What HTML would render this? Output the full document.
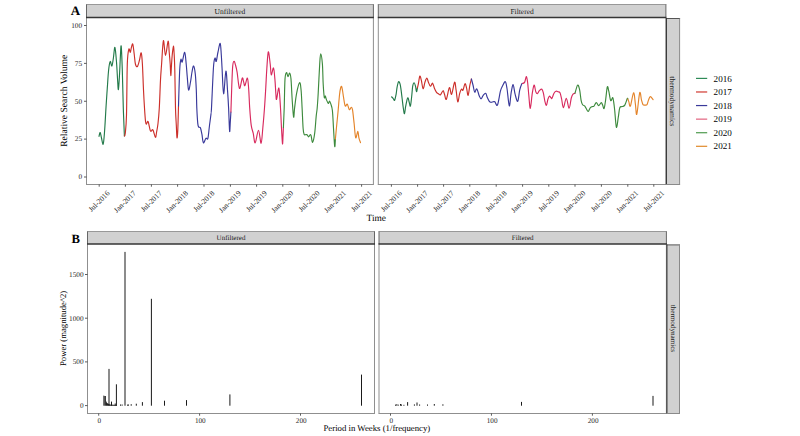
<!DOCTYPE html>
<html><head><meta charset="utf-8"><style>
html,body{margin:0;padding:0;background:#fff;width:800px;height:436px;overflow:hidden}
svg{display:block}
text{font-family:"Liberation Serif", serif;text-rendering:geometricPrecision}
</style></head><body>
<svg width="800" height="436" viewBox="0 0 800 436">
<rect width="800" height="436" fill="#fff"/>
<rect x="86.5" y="4.5" width="286.9" height="13.0" fill="#d1d1d1"/>
<text x="229.9" y="13.9" font-size="7.5" text-anchor="middle" fill="#1a1a1a">Unfiltered</text>
<line x1="86.0" y1="4.5" x2="373.9" y2="4.5" stroke="#8e8e8e" stroke-width="0.9"/>
<line x1="86.5" y1="4.5" x2="86.5" y2="17.5" stroke="#666666" stroke-width="1.0"/>
<line x1="373.4" y1="4.5" x2="373.4" y2="17.5" stroke="#666666" stroke-width="1.0"/>
<line x1="86.5" y1="17.5" x2="86.5" y2="184.5" stroke="#8f8f8f" stroke-width="1.0"/>
<line x1="373.4" y1="17.5" x2="373.4" y2="184.5" stroke="#8f8f8f" stroke-width="1.0"/>
<line x1="86.0" y1="184.5" x2="373.9" y2="184.5" stroke="#8f8f8f" stroke-width="1.0"/>
<line x1="86.0" y1="17.5" x2="373.9" y2="17.5" stroke="#353535" stroke-width="1.3"/>
<rect x="378.3" y="4.5" width="287.59999999999997" height="13.0" fill="#d1d1d1"/>
<text x="522.1" y="13.9" font-size="7.5" text-anchor="middle" fill="#1a1a1a">Filtered</text>
<line x1="377.8" y1="4.5" x2="666.4" y2="4.5" stroke="#8e8e8e" stroke-width="0.9"/>
<line x1="378.3" y1="4.5" x2="378.3" y2="17.5" stroke="#666666" stroke-width="1.0"/>
<line x1="665.9" y1="4.5" x2="665.9" y2="17.5" stroke="#666666" stroke-width="1.0"/>
<line x1="378.3" y1="17.5" x2="378.3" y2="184.5" stroke="#8f8f8f" stroke-width="1.0"/>
<line x1="665.9" y1="17.5" x2="665.9" y2="184.5" stroke="#8f8f8f" stroke-width="1.0"/>
<line x1="377.8" y1="184.5" x2="666.4" y2="184.5" stroke="#8f8f8f" stroke-width="1.0"/>
<line x1="377.8" y1="17.5" x2="666.4" y2="17.5" stroke="#353535" stroke-width="1.3"/>
<rect x="666.4" y="18.5" width="13.200000000000045" height="166.0" fill="#d1d1d1"/>
<text x="0" y="0" font-size="7.5" text-anchor="middle" fill="#1a1a1a" transform="translate(670.1,101.3) rotate(90)">thermodynamics</text>
<line x1="666.4" y1="18.5" x2="680.1" y2="18.5" stroke="#555555" stroke-width="1.0"/>
<line x1="666.4" y1="18.0" x2="666.4" y2="184.5" stroke="#333333" stroke-width="1.1"/>
<line x1="679.6" y1="18.5" x2="679.6" y2="184.5" stroke="#8a8a8a" stroke-width="1.0"/>
<line x1="666.4" y1="184.5" x2="680.1" y2="184.5" stroke="#8a8a8a" stroke-width="1.0"/>
<rect x="87.5" y="231.5" width="287.0" height="12.5" fill="#d1d1d1"/>
<text x="231.0" y="240.1" font-size="7.0" text-anchor="middle" fill="#1a1a1a">Unfiltered</text>
<line x1="87.0" y1="231.5" x2="375.0" y2="231.5" stroke="#8e8e8e" stroke-width="0.9"/>
<line x1="87.5" y1="231.5" x2="87.5" y2="244.0" stroke="#666666" stroke-width="1.0"/>
<line x1="374.5" y1="231.5" x2="374.5" y2="244.0" stroke="#666666" stroke-width="1.0"/>
<line x1="87.5" y1="244.0" x2="87.5" y2="413.5" stroke="#8f8f8f" stroke-width="1.0"/>
<line x1="374.5" y1="244.0" x2="374.5" y2="413.5" stroke="#8f8f8f" stroke-width="1.0"/>
<line x1="87.0" y1="413.5" x2="375.0" y2="413.5" stroke="#8f8f8f" stroke-width="1.0"/>
<line x1="87.0" y1="244.0" x2="375.0" y2="244.0" stroke="#353535" stroke-width="1.3"/>
<rect x="379.0" y="231.5" width="287.4" height="12.5" fill="#d1d1d1"/>
<text x="522.7" y="240.1" font-size="7.0" text-anchor="middle" fill="#1a1a1a">Filtered</text>
<line x1="378.5" y1="231.5" x2="666.9" y2="231.5" stroke="#8e8e8e" stroke-width="0.9"/>
<line x1="379.0" y1="231.5" x2="379.0" y2="244.0" stroke="#666666" stroke-width="1.0"/>
<line x1="666.4" y1="231.5" x2="666.4" y2="244.0" stroke="#666666" stroke-width="1.0"/>
<line x1="379.0" y1="244.0" x2="379.0" y2="413.5" stroke="#8f8f8f" stroke-width="1.0"/>
<line x1="666.4" y1="244.0" x2="666.4" y2="413.5" stroke="#8f8f8f" stroke-width="1.0"/>
<line x1="378.5" y1="413.5" x2="666.9" y2="413.5" stroke="#8f8f8f" stroke-width="1.0"/>
<line x1="378.5" y1="244.0" x2="666.9" y2="244.0" stroke="#353535" stroke-width="1.3"/>
<rect x="666.9" y="244.9" width="12.600000000000023" height="168.6" fill="#d1d1d1"/>
<text x="0" y="0" font-size="7.1" text-anchor="middle" fill="#1a1a1a" transform="translate(671.3,328.4) rotate(90)">thermodynamics</text>
<line x1="666.9" y1="244.9" x2="680.0" y2="244.9" stroke="#555555" stroke-width="1.0"/>
<line x1="666.9" y1="244.4" x2="666.9" y2="413.5" stroke="#333333" stroke-width="1.1"/>
<line x1="679.5" y1="244.9" x2="679.5" y2="413.5" stroke="#8a8a8a" stroke-width="1.0"/>
<line x1="666.9" y1="413.5" x2="680.0" y2="413.5" stroke="#8a8a8a" stroke-width="1.0"/>
<text x="70.7" y="14.7" font-size="13" font-weight="bold" fill="#000">A</text>
<text x="71.6" y="242.8" font-size="12.7" font-weight="bold" fill="#000">B</text>
<line x1="84" y1="177.00" x2="86.5" y2="177.00" stroke="#333333" stroke-width="0.8"/>
<text x="82.1" y="179.30" font-size="7.3" text-anchor="end" fill="#262626">0</text>
<line x1="84" y1="139.12" x2="86.5" y2="139.12" stroke="#333333" stroke-width="0.8"/>
<text x="82.1" y="141.43" font-size="7.3" text-anchor="end" fill="#262626">25</text>
<line x1="84" y1="101.25" x2="86.5" y2="101.25" stroke="#333333" stroke-width="0.8"/>
<text x="82.1" y="103.55" font-size="7.3" text-anchor="end" fill="#262626">50</text>
<line x1="84" y1="63.38" x2="86.5" y2="63.38" stroke="#333333" stroke-width="0.8"/>
<text x="82.1" y="65.68" font-size="7.3" text-anchor="end" fill="#262626">75</text>
<line x1="84" y1="25.50" x2="86.5" y2="25.50" stroke="#333333" stroke-width="0.8"/>
<text x="82.1" y="27.80" font-size="7.3" text-anchor="end" fill="#262626">100</text>
<text x="0" y="0" font-size="9.55" text-anchor="middle" fill="#000" transform="translate(66.5,100.8) rotate(-90)">Relative Search Volume</text>
<line x1="85" y1="405.60" x2="87.5" y2="405.60" stroke="#333333" stroke-width="0.8"/>
<text x="83.6" y="407.90" font-size="7.3" text-anchor="end" fill="#262626">0</text>
<line x1="85" y1="361.90" x2="87.5" y2="361.90" stroke="#333333" stroke-width="0.8"/>
<text x="83.6" y="364.20" font-size="7.3" text-anchor="end" fill="#262626">500</text>
<line x1="85" y1="318.20" x2="87.5" y2="318.20" stroke="#333333" stroke-width="0.8"/>
<text x="83.6" y="320.50" font-size="7.3" text-anchor="end" fill="#262626">1000</text>
<line x1="85" y1="274.50" x2="87.5" y2="274.50" stroke="#333333" stroke-width="0.8"/>
<text x="83.6" y="276.80" font-size="7.3" text-anchor="end" fill="#262626">1500</text>
<text x="0" y="0" font-size="8.7" text-anchor="middle" fill="#000" transform="translate(65.9,328.4) rotate(-90)">Power (magnitude^2)</text>
<line x1="99.20" y1="184.5" x2="99.20" y2="186.70" stroke="#333333" stroke-width="0.8"/>
<text x="0" y="0" font-size="7.5" text-anchor="end" fill="#262626" transform="translate(110.10,193.70) rotate(-45)">Jul-2016</text>
<line x1="125.40" y1="184.5" x2="125.40" y2="186.70" stroke="#333333" stroke-width="0.8"/>
<text x="0" y="0" font-size="7.5" text-anchor="end" fill="#262626" transform="translate(136.30,193.70) rotate(-45)">Jan-2017</text>
<line x1="151.40" y1="184.5" x2="151.40" y2="186.70" stroke="#333333" stroke-width="0.8"/>
<text x="0" y="0" font-size="7.5" text-anchor="end" fill="#262626" transform="translate(162.30,193.70) rotate(-45)">Jul-2017</text>
<line x1="177.60" y1="184.5" x2="177.60" y2="186.70" stroke="#333333" stroke-width="0.8"/>
<text x="0" y="0" font-size="7.5" text-anchor="end" fill="#262626" transform="translate(188.50,193.70) rotate(-45)">Jan-2018</text>
<line x1="204.00" y1="184.5" x2="204.00" y2="186.70" stroke="#333333" stroke-width="0.8"/>
<text x="0" y="0" font-size="7.5" text-anchor="end" fill="#262626" transform="translate(214.90,193.70) rotate(-45)">Jul-2018</text>
<line x1="230.40" y1="184.5" x2="230.40" y2="186.70" stroke="#333333" stroke-width="0.8"/>
<text x="0" y="0" font-size="7.5" text-anchor="end" fill="#262626" transform="translate(241.30,193.70) rotate(-45)">Jan-2019</text>
<line x1="256.60" y1="184.5" x2="256.60" y2="186.70" stroke="#333333" stroke-width="0.8"/>
<text x="0" y="0" font-size="7.5" text-anchor="end" fill="#262626" transform="translate(267.50,193.70) rotate(-45)">Jul-2019</text>
<line x1="282.80" y1="184.5" x2="282.80" y2="186.70" stroke="#333333" stroke-width="0.8"/>
<text x="0" y="0" font-size="7.5" text-anchor="end" fill="#262626" transform="translate(293.70,193.70) rotate(-45)">Jan-2020</text>
<line x1="309.20" y1="184.5" x2="309.20" y2="186.70" stroke="#333333" stroke-width="0.8"/>
<text x="0" y="0" font-size="7.5" text-anchor="end" fill="#262626" transform="translate(320.10,193.70) rotate(-45)">Jul-2020</text>
<line x1="335.60" y1="184.5" x2="335.60" y2="186.70" stroke="#333333" stroke-width="0.8"/>
<text x="0" y="0" font-size="7.5" text-anchor="end" fill="#262626" transform="translate(346.50,193.70) rotate(-45)">Jan-2021</text>
<line x1="361.60" y1="184.5" x2="361.60" y2="186.70" stroke="#333333" stroke-width="0.8"/>
<text x="0" y="0" font-size="7.5" text-anchor="end" fill="#262626" transform="translate(372.50,193.70) rotate(-45)">Jul-2021</text>
<line x1="391.40" y1="184.5" x2="391.40" y2="186.70" stroke="#333333" stroke-width="0.8"/>
<text x="0" y="0" font-size="7.5" text-anchor="end" fill="#262626" transform="translate(402.30,193.70) rotate(-45)">Jul-2016</text>
<line x1="417.60" y1="184.5" x2="417.60" y2="186.70" stroke="#333333" stroke-width="0.8"/>
<text x="0" y="0" font-size="7.5" text-anchor="end" fill="#262626" transform="translate(428.50,193.70) rotate(-45)">Jan-2017</text>
<line x1="443.60" y1="184.5" x2="443.60" y2="186.70" stroke="#333333" stroke-width="0.8"/>
<text x="0" y="0" font-size="7.5" text-anchor="end" fill="#262626" transform="translate(454.50,193.70) rotate(-45)">Jul-2017</text>
<line x1="469.80" y1="184.5" x2="469.80" y2="186.70" stroke="#333333" stroke-width="0.8"/>
<text x="0" y="0" font-size="7.5" text-anchor="end" fill="#262626" transform="translate(480.70,193.70) rotate(-45)">Jan-2018</text>
<line x1="496.20" y1="184.5" x2="496.20" y2="186.70" stroke="#333333" stroke-width="0.8"/>
<text x="0" y="0" font-size="7.5" text-anchor="end" fill="#262626" transform="translate(507.10,193.70) rotate(-45)">Jul-2018</text>
<line x1="522.60" y1="184.5" x2="522.60" y2="186.70" stroke="#333333" stroke-width="0.8"/>
<text x="0" y="0" font-size="7.5" text-anchor="end" fill="#262626" transform="translate(533.50,193.70) rotate(-45)">Jan-2019</text>
<line x1="548.80" y1="184.5" x2="548.80" y2="186.70" stroke="#333333" stroke-width="0.8"/>
<text x="0" y="0" font-size="7.5" text-anchor="end" fill="#262626" transform="translate(559.70,193.70) rotate(-45)">Jul-2019</text>
<line x1="575.00" y1="184.5" x2="575.00" y2="186.70" stroke="#333333" stroke-width="0.8"/>
<text x="0" y="0" font-size="7.5" text-anchor="end" fill="#262626" transform="translate(585.90,193.70) rotate(-45)">Jan-2020</text>
<line x1="601.40" y1="184.5" x2="601.40" y2="186.70" stroke="#333333" stroke-width="0.8"/>
<text x="0" y="0" font-size="7.5" text-anchor="end" fill="#262626" transform="translate(612.30,193.70) rotate(-45)">Jul-2020</text>
<line x1="627.80" y1="184.5" x2="627.80" y2="186.70" stroke="#333333" stroke-width="0.8"/>
<text x="0" y="0" font-size="7.5" text-anchor="end" fill="#262626" transform="translate(638.70,193.70) rotate(-45)">Jan-2021</text>
<line x1="653.80" y1="184.5" x2="653.80" y2="186.70" stroke="#333333" stroke-width="0.8"/>
<text x="0" y="0" font-size="7.5" text-anchor="end" fill="#262626" transform="translate(664.70,193.70) rotate(-45)">Jul-2021</text>
<text x="376.3" y="221.1" font-size="9.4" text-anchor="middle" fill="#000">Time</text>
<line x1="98.70" y1="413.5" x2="98.70" y2="415.70" stroke="#333333" stroke-width="0.8"/>
<text x="99.40" y="422.60" font-size="7.2" text-anchor="middle" fill="#262626">0</text>
<line x1="199.60" y1="413.5" x2="199.60" y2="415.70" stroke="#333333" stroke-width="0.8"/>
<text x="200.30" y="422.60" font-size="7.2" text-anchor="middle" fill="#262626">100</text>
<line x1="300.50" y1="413.5" x2="300.50" y2="415.70" stroke="#333333" stroke-width="0.8"/>
<text x="301.20" y="422.60" font-size="7.2" text-anchor="middle" fill="#262626">200</text>
<line x1="390.50" y1="413.5" x2="390.50" y2="415.70" stroke="#333333" stroke-width="0.8"/>
<text x="391.20" y="422.60" font-size="7.2" text-anchor="middle" fill="#262626">0</text>
<line x1="491.45" y1="413.5" x2="491.45" y2="415.70" stroke="#333333" stroke-width="0.8"/>
<text x="492.15" y="422.60" font-size="7.2" text-anchor="middle" fill="#262626">100</text>
<line x1="592.40" y1="413.5" x2="592.40" y2="415.70" stroke="#333333" stroke-width="0.8"/>
<text x="593.10" y="422.60" font-size="7.2" text-anchor="middle" fill="#262626">200</text>
<text x="376.9" y="430.8" font-size="8.75" text-anchor="middle" fill="#000">Period in Weeks (1/frequency)</text>
<line x1="696" y1="78.40" x2="707.2" y2="78.40" stroke="#2e8b57" stroke-width="1.2"/>
<text x="713.6" y="81.50" font-size="9.1" fill="#000">2016</text>
<line x1="696" y1="91.98" x2="707.2" y2="91.98" stroke="#d0392f" stroke-width="1.2"/>
<text x="713.6" y="95.08" font-size="9.1" fill="#000">2017</text>
<line x1="696" y1="105.56" x2="707.2" y2="105.56" stroke="#3a3a9a" stroke-width="1.2"/>
<text x="713.6" y="108.66" font-size="9.1" fill="#000">2018</text>
<line x1="696" y1="119.14" x2="707.2" y2="119.14" stroke="#e2627f" stroke-width="1.2"/>
<text x="713.6" y="122.24" font-size="9.1" fill="#000">2019</text>
<line x1="696" y1="132.72" x2="707.2" y2="132.72" stroke="#4e9a4e" stroke-width="1.2"/>
<text x="713.6" y="135.82" font-size="9.1" fill="#000">2020</text>
<line x1="696" y1="146.30" x2="707.2" y2="146.30" stroke="#e0892a" stroke-width="1.2"/>
<text x="713.6" y="149.40" font-size="9.1" fill="#000">2021</text>
<path d="M99.00,136.30 C99.20,135.67 99.78,132.22 100.20,132.50 C100.62,132.78 101.02,136.03 101.50,138.00 C101.98,139.97 102.65,144.63 103.10,144.30 C103.55,143.97 103.87,139.53 104.20,136.00 C104.53,132.47 104.78,128.15 105.10,123.10 C105.42,118.05 105.73,111.55 106.10,105.70 C106.47,99.85 106.88,93.90 107.30,88.00 C107.72,82.10 108.12,74.72 108.60,70.30 C109.08,65.88 109.65,62.22 110.20,61.50 C110.75,60.78 111.37,66.58 111.90,66.00 C112.43,65.42 112.90,61.10 113.40,58.00 C113.90,54.90 114.38,46.73 114.90,47.40 C115.42,48.07 116.05,56.57 116.50,62.00 C116.95,67.43 117.28,75.42 117.60,80.00 C117.92,84.58 118.08,90.33 118.40,89.50 C118.72,88.67 119.17,80.58 119.50,75.00 C119.83,69.42 120.12,60.80 120.40,56.00 C120.68,51.20 120.88,43.87 121.20,46.20 C121.52,48.53 121.95,59.70 122.30,70.00 C122.65,80.30 122.95,97.00 123.30,108.00 C123.65,119.00 124.22,131.33 124.40,136.00" fill="none" stroke="#237a4a" stroke-width="1.15" stroke-linejoin="round" stroke-linecap="round"/>
<path d="M124.40,136.00 C124.55,135.53 124.95,136.70 125.30,133.20 C125.65,129.70 126.17,126.53 126.50,115.00 C126.83,103.47 126.92,74.95 127.30,64.00 C127.68,53.05 128.30,51.25 128.80,49.30 C129.30,47.35 129.85,52.68 130.30,52.30 C130.75,51.92 131.08,48.35 131.50,47.00 C131.92,45.65 132.35,43.03 132.80,44.20 C133.25,45.37 133.77,50.70 134.20,54.00 C134.63,57.30 134.87,61.92 135.40,64.00 C135.93,66.08 136.72,67.17 137.40,66.50 C138.08,65.83 138.87,62.28 139.50,60.00 C140.13,57.72 140.72,52.13 141.20,52.80 C141.68,53.47 142.02,57.80 142.40,64.00 C142.78,70.20 143.15,82.67 143.50,90.00 C143.85,97.33 144.17,102.82 144.50,108.00 C144.83,113.18 145.20,118.40 145.50,121.10 C145.80,123.80 145.87,124.12 146.30,124.20 C146.73,124.28 147.40,120.47 148.10,121.60 C148.80,122.73 149.70,129.62 150.50,131.00 C151.30,132.38 152.08,128.85 152.90,129.90 C153.72,130.95 154.78,136.95 155.40,137.30 C156.02,137.65 156.17,134.30 156.60,132.00 C157.03,129.70 157.55,127.50 158.00,123.50 C158.45,119.50 158.88,115.25 159.30,108.00 C159.72,100.75 160.12,87.33 160.50,80.00 C160.88,72.67 161.12,70.55 161.60,64.00 C162.08,57.45 162.75,42.12 163.40,40.70 C164.05,39.28 164.72,55.42 165.50,55.50 C166.28,55.58 167.48,41.78 168.10,41.20 C168.72,40.62 168.85,48.20 169.20,52.00 C169.55,55.80 169.93,60.07 170.20,64.00 C170.47,67.93 170.58,75.43 170.80,75.60 C171.02,75.77 171.27,68.38 171.50,65.00 C171.73,61.62 171.88,58.47 172.20,55.30 C172.52,52.13 173.07,46.05 173.40,46.00 C173.73,45.95 173.97,51.00 174.20,55.00 C174.43,59.00 174.58,61.17 174.80,70.00 C175.02,78.83 175.25,98.83 175.50,108.00 C175.75,117.17 176.05,120.03 176.30,125.00 C176.55,129.97 176.75,136.97 177.00,137.80 C177.25,138.63 177.55,135.30 177.80,130.00 C178.05,124.70 178.38,110.00 178.50,106.00" fill="none" stroke="#cc2f2a" stroke-width="1.15" stroke-linejoin="round" stroke-linecap="round"/>
<path d="M178.50,106.00 C178.70,100.00 179.30,77.77 179.70,70.00 C180.10,62.23 180.48,60.75 180.90,59.40 C181.32,58.05 181.57,63.08 182.20,61.90 C182.83,60.72 184.03,51.95 184.70,52.30 C185.37,52.65 185.78,60.03 186.20,64.00 C186.62,67.97 186.80,71.77 187.20,76.10 C187.60,80.43 188.05,89.02 188.60,90.00 C189.15,90.98 189.93,85.00 190.50,82.00 C191.07,79.00 191.48,74.67 192.00,72.00 C192.52,69.33 193.05,65.65 193.60,66.00 C194.15,66.35 194.85,70.10 195.30,74.10 C195.75,78.10 196.05,84.35 196.30,90.00 C196.55,95.65 196.55,102.40 196.80,108.00 C197.05,113.60 197.47,120.40 197.80,123.60 C198.13,126.80 198.37,126.52 198.80,127.20 C199.23,127.88 199.88,126.53 200.40,127.70 C200.92,128.87 201.40,131.68 201.90,134.20 C202.40,136.72 202.73,142.12 203.40,142.80 C204.07,143.48 205.15,139.05 205.90,138.30 C206.65,137.55 207.32,140.32 207.90,138.30 C208.48,136.28 208.88,130.25 209.40,126.20 C209.92,122.15 210.65,117.03 211.00,114.00 C211.35,110.97 211.08,115.83 211.50,108.00 C211.92,100.17 212.92,75.32 213.50,67.00 C214.08,58.68 214.55,59.03 215.00,58.10 C215.45,57.17 215.70,62.42 216.20,61.40 C216.70,60.38 217.33,55.00 218.00,52.00 C218.67,49.00 219.65,42.90 220.20,43.40 C220.75,43.90 220.98,50.73 221.30,55.00 C221.62,59.27 221.72,62.53 222.10,69.00 C222.48,75.47 222.97,93.45 223.60,93.80 C224.23,94.15 225.25,71.73 225.90,71.10 C226.55,70.47 227.05,83.85 227.50,90.00 C227.95,96.15 228.25,101.13 228.60,108.00 C228.95,114.87 229.32,128.87 229.60,131.20 C229.88,133.53 230.08,125.20 230.30,122.00 C230.52,118.80 230.80,113.67 230.90,112.00" fill="none" stroke="#38389a" stroke-width="1.15" stroke-linejoin="round" stroke-linecap="round"/>
<path d="M230.90,112.00 C231.17,104.83 231.98,77.43 232.50,69.00 C233.02,60.57 233.50,62.07 234.00,61.40 C234.50,60.73 234.98,63.22 235.50,65.00 C236.02,66.78 236.58,68.90 237.10,72.10 C237.62,75.30 238.13,81.52 238.60,84.20 C239.07,86.88 239.28,89.22 239.90,88.20 C240.52,87.18 241.68,79.18 242.30,78.10 C242.92,77.02 243.17,80.43 243.60,81.70 C244.03,82.97 244.27,86.30 244.90,85.70 C245.53,85.10 246.77,77.52 247.40,78.10 C248.03,78.68 248.32,84.22 248.70,89.20 C249.08,94.18 249.28,102.00 249.70,108.00 C250.12,114.00 250.62,121.00 251.20,125.20 C251.78,129.40 252.53,130.27 253.20,133.20 C253.87,136.13 254.32,143.30 255.20,142.80 C256.08,142.30 257.52,130.12 258.50,130.20 C259.48,130.28 260.38,143.63 261.10,143.30 C261.82,142.97 262.23,134.08 262.80,128.20 C263.37,122.32 264.00,114.83 264.50,108.00 C265.00,101.17 265.42,93.70 265.80,87.20 C266.18,80.70 266.38,74.90 266.80,69.00 C267.22,63.10 267.73,52.63 268.30,51.80 C268.87,50.97 269.70,60.17 270.20,64.00 C270.70,67.83 270.75,74.13 271.30,74.80 C271.85,75.47 272.90,67.28 273.50,68.00 C274.10,68.72 274.50,74.72 274.90,79.10 C275.30,83.48 275.62,90.93 275.90,94.30 C276.18,97.67 276.10,100.32 276.60,99.30 C277.10,98.28 278.25,86.75 278.90,88.20 C279.55,89.65 280.07,101.33 280.50,108.00 C280.93,114.67 281.17,122.23 281.50,128.20 C281.83,134.17 282.25,142.50 282.50,143.80 C282.75,145.10 282.85,138.72 283.00,136.00 C283.15,133.28 283.33,128.92 283.40,127.50" fill="none" stroke="#d82a5e" stroke-width="1.15" stroke-linejoin="round" stroke-linecap="round"/>
<path d="M283.40,127.50 C283.53,124.25 283.93,116.07 284.20,108.00 C284.47,99.93 284.62,85.00 285.00,79.10 C285.38,73.20 286.00,73.02 286.50,72.60 C287.00,72.18 287.47,76.52 288.00,76.60 C288.53,76.68 289.20,72.68 289.70,73.10 C290.20,73.52 290.58,74.62 291.00,79.10 C291.42,83.58 291.77,93.67 292.20,100.00 C292.63,106.33 293.20,115.77 293.60,117.10 C294.00,118.43 294.10,111.97 294.60,108.00 C295.10,104.03 295.77,97.52 296.60,93.30 C297.43,89.08 298.85,83.22 299.60,82.70 C300.35,82.18 300.68,85.98 301.10,90.20 C301.52,94.42 301.77,101.67 302.10,108.00 C302.43,114.33 302.77,123.83 303.10,128.20 C303.43,132.57 303.68,133.12 304.10,134.20 C304.52,135.28 305.10,134.62 305.60,134.70 C306.10,134.78 306.60,134.35 307.10,134.70 C307.60,135.05 308.10,136.80 308.60,136.80 C309.10,136.80 309.68,134.88 310.10,134.70 C310.52,134.52 310.68,134.43 311.10,135.70 C311.52,136.97 312.00,142.72 312.60,142.30 C313.20,141.88 314.10,137.57 314.70,133.20 C315.30,128.83 315.78,120.30 316.20,116.10 C316.62,111.90 316.87,111.80 317.20,108.00 C317.53,104.20 317.78,100.63 318.20,93.30 C318.62,85.97 319.28,70.58 319.70,64.00 C320.12,57.42 320.25,53.80 320.70,53.80 C321.15,53.80 321.98,58.93 322.40,64.00 C322.82,69.07 322.88,78.65 323.20,84.20 C323.52,89.75 323.95,95.33 324.30,97.30 C324.65,99.27 324.97,95.67 325.30,96.00 C325.63,96.33 325.80,98.07 326.30,99.30 C326.80,100.53 327.77,103.12 328.30,103.40 C328.83,103.68 329.08,100.92 329.50,101.00 C329.92,101.08 330.32,102.32 330.80,103.90 C331.28,105.48 331.95,106.45 332.40,110.50 C332.85,114.55 333.12,122.20 333.50,128.20 C333.88,134.20 334.38,144.70 334.70,146.50 C335.02,148.30 335.28,140.25 335.40,139.00" fill="none" stroke="#3d8a3d" stroke-width="1.15" stroke-linejoin="round" stroke-linecap="round"/>
<path d="M335.40,139.00 C335.57,137.20 335.97,132.70 336.40,128.20 C336.83,123.70 337.48,117.53 338.00,112.00 C338.52,106.47 339.07,99.00 339.50,95.00 C339.93,91.00 340.25,89.43 340.60,88.00 C340.95,86.57 341.27,85.90 341.60,86.40 C341.93,86.90 342.27,89.12 342.60,91.00 C342.93,92.88 343.17,95.20 343.60,97.70 C344.03,100.20 344.58,104.93 345.20,106.00 C345.82,107.07 346.62,103.48 347.30,104.10 C347.98,104.72 348.63,109.17 349.30,109.70 C349.97,110.23 350.77,107.30 351.30,107.30 C351.83,107.30 352.03,107.03 352.50,109.70 C352.97,112.37 353.57,118.62 354.10,123.30 C354.63,127.98 355.08,136.45 355.70,137.80 C356.32,139.15 357.27,131.40 357.80,131.40 C358.33,131.40 358.45,135.93 358.90,137.80 C359.35,139.67 360.23,141.80 360.50,142.60" fill="none" stroke="#e4842a" stroke-width="1.15" stroke-linejoin="round" stroke-linecap="round"/>
<path d="M391.50,96.80 C391.77,97.05 392.58,97.72 393.10,98.30 C393.62,98.88 394.10,100.97 394.60,100.30 C395.10,99.63 395.68,96.48 396.10,94.30 C396.52,92.12 396.68,89.30 397.10,87.20 C397.52,85.10 398.10,82.20 398.60,81.70 C399.10,81.20 399.68,82.78 400.10,84.20 C400.52,85.62 400.77,87.85 401.10,90.20 C401.43,92.55 401.73,95.33 402.10,98.30 C402.47,101.27 402.90,105.43 403.30,108.00 C403.70,110.57 404.10,114.00 404.50,113.70 C404.90,113.40 405.17,108.85 405.70,106.20 C406.23,103.55 407.12,98.45 407.70,97.80 C408.28,97.15 408.75,100.92 409.20,102.30 C409.65,103.68 409.98,107.10 410.40,106.10 C410.82,105.10 411.32,99.62 411.70,96.30 C412.08,92.98 412.30,88.47 412.70,86.20 C413.10,83.93 413.63,82.70 414.10,82.70 C414.57,82.70 415.10,84.70 415.50,86.20 C415.90,87.70 416.18,91.40 416.50,91.70 C416.82,92.00 417.25,88.62 417.40,88.00" fill="none" stroke="#237a4a" stroke-width="1.15" stroke-linejoin="round" stroke-linecap="round"/>
<path d="M417.40,88.00 C417.55,87.37 417.90,86.18 418.30,84.20 C418.70,82.22 419.30,76.78 419.80,76.10 C420.30,75.42 420.75,78.00 421.30,80.10 C421.85,82.20 422.48,88.38 423.10,88.70 C423.72,89.02 424.37,83.77 425.00,82.00 C425.63,80.23 426.33,78.07 426.90,78.10 C427.47,78.13 427.82,80.85 428.40,82.20 C428.98,83.55 429.70,86.03 430.40,86.20 C431.10,86.37 431.93,82.87 432.60,83.20 C433.27,83.53 433.75,86.68 434.40,88.20 C435.05,89.72 435.82,91.37 436.50,92.30 C437.18,93.23 437.83,93.38 438.50,93.80 C439.17,94.22 439.75,95.32 440.50,94.80 C441.25,94.28 442.33,90.78 443.00,90.70 C443.67,90.62 443.95,92.87 444.50,94.30 C445.05,95.73 445.48,100.40 446.30,99.30 C447.12,98.20 448.52,88.53 449.40,87.70 C450.28,86.87 450.73,95.22 451.60,94.30 C452.47,93.38 453.85,82.88 454.60,82.20 C455.35,81.52 455.57,86.93 456.10,90.20 C456.63,93.47 457.20,101.28 457.80,101.80 C458.40,102.32 459.08,95.40 459.70,93.30 C460.32,91.20 460.95,89.72 461.50,89.20 C462.05,88.68 462.42,91.12 463.00,90.20 C463.58,89.28 464.40,84.03 465.00,83.70 C465.60,83.37 466.08,86.27 466.60,88.20 C467.12,90.13 467.55,95.83 468.10,95.30 C468.65,94.77 469.35,87.72 469.90,85.00 C470.45,82.28 471.15,80.00 471.40,79.00" fill="none" stroke="#cc2f2a" stroke-width="1.15" stroke-linejoin="round" stroke-linecap="round"/>
<path d="M471.40,79.00 C471.68,80.08 472.55,83.30 473.10,85.50 C473.65,87.70 474.08,91.63 474.70,92.20 C475.32,92.77 476.03,88.27 476.80,88.90 C477.57,89.53 478.57,94.35 479.30,96.00 C480.03,97.65 480.55,98.92 481.20,98.80 C481.85,98.68 482.45,96.22 483.20,95.30 C483.95,94.38 485.03,92.97 485.70,93.30 C486.37,93.63 486.60,95.97 487.20,97.30 C487.80,98.63 488.70,100.47 489.30,101.30 C489.90,102.13 490.13,102.22 490.80,102.30 C491.47,102.38 492.63,101.88 493.30,101.80 C493.97,101.72 494.10,101.28 494.80,101.80 C495.50,102.32 496.57,106.67 497.50,104.90 C498.43,103.13 499.58,94.32 500.40,91.20 C501.22,88.08 501.58,87.78 502.40,86.20 C503.22,84.62 504.53,81.32 505.30,81.70 C506.07,82.08 506.33,84.48 507.00,88.50 C507.67,92.52 508.62,105.02 509.30,105.80 C509.98,106.58 510.47,96.73 511.10,93.20 C511.73,89.67 512.43,84.43 513.10,84.60 C513.77,84.77 514.33,91.42 515.10,94.20 C515.87,96.98 516.93,101.97 517.70,101.30 C518.47,100.63 519.03,93.07 519.70,90.20 C520.37,87.33 521.22,85.22 521.70,84.10 C522.18,82.98 522.45,83.60 522.60,83.50" fill="none" stroke="#38389a" stroke-width="1.15" stroke-linejoin="round" stroke-linecap="round"/>
<path d="M522.60,83.50 C522.95,83.27 524.07,83.25 524.70,82.10 C525.33,80.95 525.90,76.43 526.40,76.60 C526.90,76.77 527.30,80.00 527.70,83.10 C528.10,86.20 528.37,91.00 528.80,95.20 C529.23,99.40 529.72,108.63 530.30,108.30 C530.88,107.97 531.67,97.07 532.30,93.20 C532.93,89.33 533.52,85.35 534.10,85.10 C534.68,84.85 535.27,90.27 535.80,91.70 C536.33,93.13 536.70,93.87 537.30,93.70 C537.90,93.53 538.63,91.45 539.40,90.70 C540.17,89.95 541.23,88.78 541.90,89.20 C542.57,89.62 542.90,91.18 543.40,93.20 C543.90,95.22 544.40,99.28 544.90,101.30 C545.40,103.32 545.90,105.63 546.40,105.30 C546.90,104.97 547.40,100.82 547.90,99.30 C548.40,97.78 548.88,96.45 549.40,96.20 C549.92,95.95 550.57,97.45 551.00,97.80 C551.43,98.15 551.50,99.07 552.00,98.30 C552.50,97.53 553.33,94.38 554.00,93.20 C554.67,92.02 555.33,91.45 556.00,91.20 C556.67,90.95 557.33,91.45 558.00,91.70 C558.67,91.95 559.40,91.52 560.00,92.70 C560.60,93.88 561.03,96.28 561.60,98.80 C562.17,101.32 562.62,107.88 563.40,107.80 C564.18,107.72 565.35,98.22 566.30,98.30 C567.25,98.38 568.27,108.35 569.10,108.30 C569.93,108.25 570.65,100.35 571.30,98.00 C571.95,95.65 572.38,95.00 573.00,94.20 C573.62,93.40 574.67,93.37 575.00,93.20" fill="none" stroke="#d82a5e" stroke-width="1.15" stroke-linejoin="round" stroke-linecap="round"/>
<path d="M575.00,93.20 C575.43,91.85 576.83,85.68 577.60,85.10 C578.37,84.52 579.02,87.17 579.60,89.70 C580.18,92.23 580.60,97.78 581.10,100.30 C581.60,102.82 582.02,103.88 582.60,104.80 C583.18,105.72 584.02,105.22 584.60,105.80 C585.18,106.38 585.50,107.37 586.10,108.30 C586.70,109.23 587.52,111.48 588.20,111.40 C588.88,111.32 589.53,108.60 590.20,107.80 C590.87,107.00 591.57,106.88 592.20,106.60 C592.83,106.32 593.32,106.77 594.00,106.10 C594.68,105.43 595.53,102.68 596.30,102.60 C597.07,102.52 597.77,105.60 598.60,105.60 C599.43,105.60 600.63,102.68 601.30,102.60 C601.97,102.52 602.13,104.12 602.60,105.10 C603.07,106.08 603.60,109.33 604.10,108.50 C604.60,107.67 605.07,103.68 605.60,100.10 C606.13,96.52 606.77,88.48 607.30,87.00 C607.83,85.52 608.23,88.93 608.80,91.20 C609.37,93.47 610.05,99.53 610.70,100.60 C611.35,101.67 612.20,97.35 612.70,97.60 C613.20,97.85 613.37,100.00 613.70,102.10 C614.03,104.20 614.25,106.00 614.70,110.20 C615.15,114.40 615.80,126.13 616.40,127.30 C617.00,128.47 617.73,120.47 618.30,117.20 C618.87,113.93 619.13,109.47 619.80,107.70 C620.47,105.93 621.47,107.03 622.30,106.60 C623.13,106.17 623.97,106.43 624.80,105.10 C625.63,103.77 626.80,99.62 627.30,98.60 C627.80,97.58 627.72,98.93 627.80,99.00" fill="none" stroke="#3d8a3d" stroke-width="1.15" stroke-linejoin="round" stroke-linecap="round"/>
<path d="M627.80,99.00 C627.97,99.43 628.37,100.42 628.80,101.60 C629.23,102.78 629.60,107.57 630.40,106.10 C631.20,104.63 632.77,93.13 633.60,92.80 C634.43,92.47 634.87,100.53 635.40,104.10 C635.93,107.67 636.08,116.08 636.80,114.20 C637.52,112.32 638.92,95.15 639.70,92.80 C640.48,90.45 640.95,98.13 641.50,100.10 C642.05,102.07 642.42,103.77 643.00,104.60 C643.58,105.43 644.33,105.10 645.00,105.10 C645.67,105.10 646.42,105.43 647.00,104.60 C647.58,103.77 647.95,101.43 648.50,100.10 C649.05,98.77 649.53,96.68 650.30,96.60 C651.07,96.52 652.63,99.10 653.10,99.60" fill="none" stroke="#e4842a" stroke-width="1.15" stroke-linejoin="round" stroke-linecap="round"/>
<rect x="108.50" y="368.90" width="1" height="36.80" fill="#1a1a1a"/>
<rect x="111.00" y="401.60" width="1" height="4.10" fill="#1a1a1a"/>
<rect x="114.70" y="403.50" width="1" height="2.20" fill="#1a1a1a"/>
<rect x="115.90" y="384.30" width="1" height="21.40" fill="#1a1a1a"/>
<rect x="120.00" y="404.50" width="1" height="1.20" fill="#1a1a1a"/>
<rect x="121.60" y="404.50" width="1" height="1.20" fill="#1a1a1a"/>
<rect x="124.50" y="251.90" width="1" height="153.80" fill="#1a1a1a"/>
<rect x="127.10" y="404.60" width="1" height="1.10" fill="#1a1a1a"/>
<rect x="127.90" y="404.50" width="1" height="1.20" fill="#1a1a1a"/>
<rect x="130.70" y="404.20" width="1" height="1.50" fill="#1a1a1a"/>
<rect x="135.80" y="403.70" width="1" height="2.00" fill="#1a1a1a"/>
<rect x="141.90" y="402.10" width="1" height="3.60" fill="#1a1a1a"/>
<rect x="150.90" y="298.80" width="1" height="106.90" fill="#1a1a1a"/>
<rect x="164.00" y="400.70" width="1" height="5.00" fill="#1a1a1a"/>
<rect x="186.00" y="400.10" width="1" height="5.60" fill="#1a1a1a"/>
<rect x="229.40" y="394.40" width="1" height="11.30" fill="#1a1a1a"/>
<rect x="361.00" y="374.60" width="1" height="31.10" fill="#1a1a1a"/>
<rect x="395.00" y="404.60" width="1" height="1.10" fill="#1a1a1a"/>
<rect x="396.30" y="404.20" width="1" height="1.50" fill="#1a1a1a"/>
<rect x="397.70" y="404.60" width="1" height="1.10" fill="#1a1a1a"/>
<rect x="400.00" y="404.00" width="1" height="1.70" fill="#1a1a1a"/>
<rect x="401.00" y="404.50" width="1" height="1.20" fill="#1a1a1a"/>
<rect x="403.40" y="404.80" width="1" height="0.90" fill="#1a1a1a"/>
<rect x="407.10" y="402.10" width="1" height="3.60" fill="#1a1a1a"/>
<rect x="413.90" y="404.40" width="1" height="1.30" fill="#1a1a1a"/>
<rect x="416.50" y="402.50" width="1" height="3.20" fill="#1a1a1a"/>
<rect x="419.10" y="404.50" width="1" height="1.20" fill="#1a1a1a"/>
<rect x="427.00" y="404.50" width="1" height="1.20" fill="#1a1a1a"/>
<rect x="433.80" y="404.00" width="1" height="1.70" fill="#1a1a1a"/>
<rect x="442.40" y="404.30" width="1" height="1.40" fill="#1a1a1a"/>
<rect x="521.00" y="401.90" width="1" height="3.80" fill="#1a1a1a"/>
<rect x="652.50" y="395.90" width="1" height="9.80" fill="#1a1a1a"/>
<rect x="103.1" y="395.6" width="1.3" height="10.10" fill="#666"/>
<rect x="104.4" y="396.0" width="1.4" height="9.70" fill="#111"/>
<polygon points="105.8,400.5 107,403 110,404.6 117,405 117,405.7 105.8,405.7" fill="#222"/>
</svg>
</body></html>
